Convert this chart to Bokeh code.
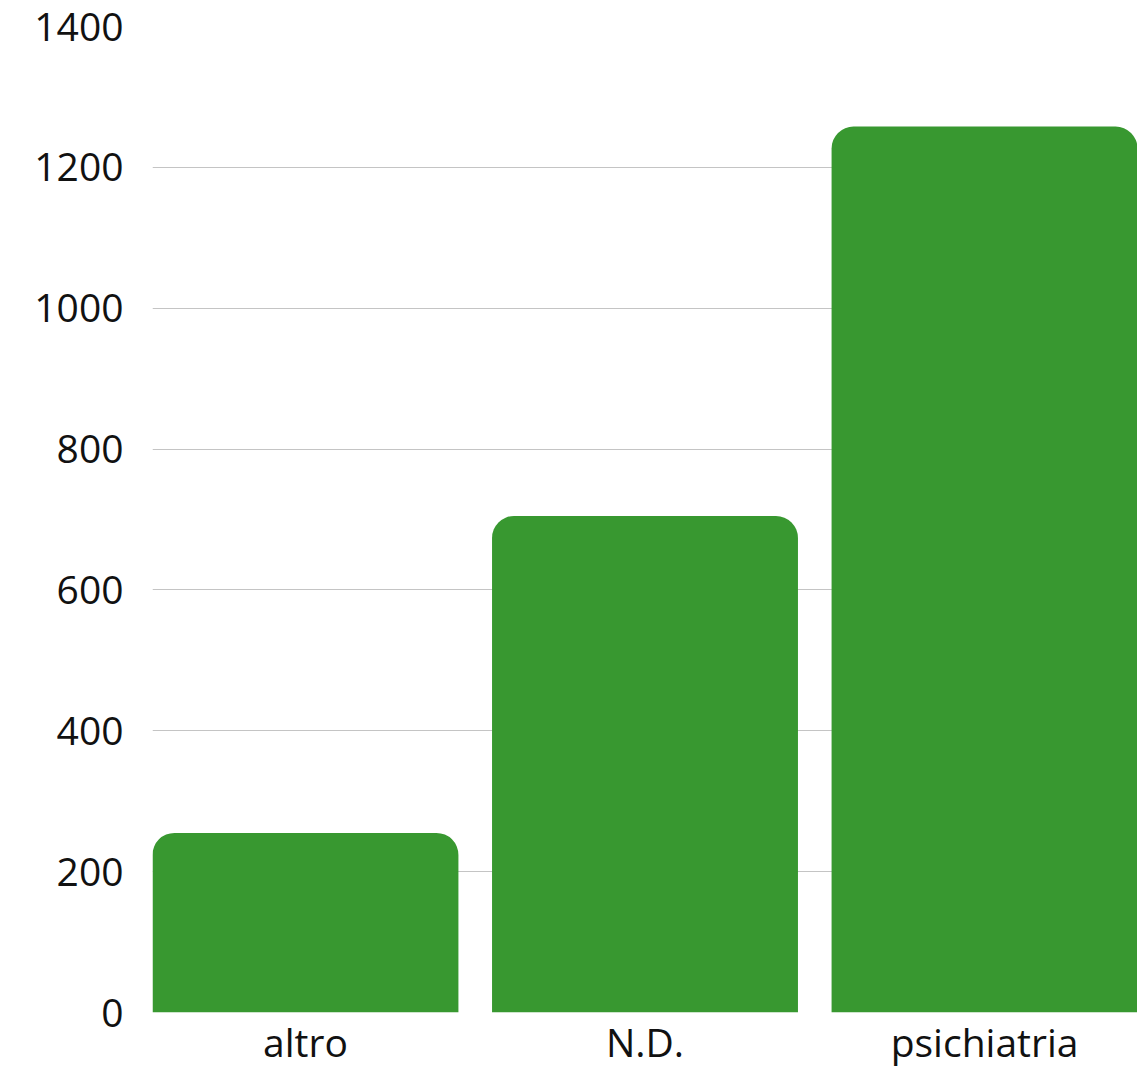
from bokeh.plotting import figure
from bokeh.models import ColumnDataSource, FactorRange, Range1d, FixedTicker
from bokeh.embed import file_html
from bokeh.resources import INLINE

categories = ["altro", "N.D.", "psichiatria"]
values = [255, 705, 1258]
y_ticks = [0, 200, 400, 600, 800, 1000, 1200, 1400]

src = ColumnDataSource(data=dict(cat=categories, val=values))

p = figure(x_range=FactorRange(*categories, range_padding=-0.033),
           y_range=Range1d(0, 1400),
           width=1137, height=1070, output_backend="svg", toolbar_location=None,
           min_border_left=152, min_border_right=0, min_border_top=26, min_border_bottom=0)
p.outline_line_color = None
p.background_fill_color = "white"

p.vbar(x="cat", top="val", width=0.901, source=src, fill_color="#389830",
       line_color=None, border_radius=(22, 22, 0, 0))

p.yaxis.ticker = FixedTicker(ticks=y_ticks)
for ax in (p.xaxis[0], p.yaxis[0]):
    ax.axis_line_color = None
    ax.major_tick_line_color = None
    ax.minor_tick_line_color = None
    ax.major_label_text_font = "Open Sans"
    ax.major_label_text_font_size = "39px"
    ax.major_label_text_color = "#111111"
p.yaxis.major_label_standoff = 23
p.xaxis.major_label_standoff = -4
p.xgrid.grid_line_color = None
p.ygrid.grid_line_color = "#c4c4c4"
p.ygrid.grid_line_width = 1
p.ygrid.ticker = FixedTicker(ticks=y_ticks)

open("out.html", "w").write(file_html(p, INLINE))
